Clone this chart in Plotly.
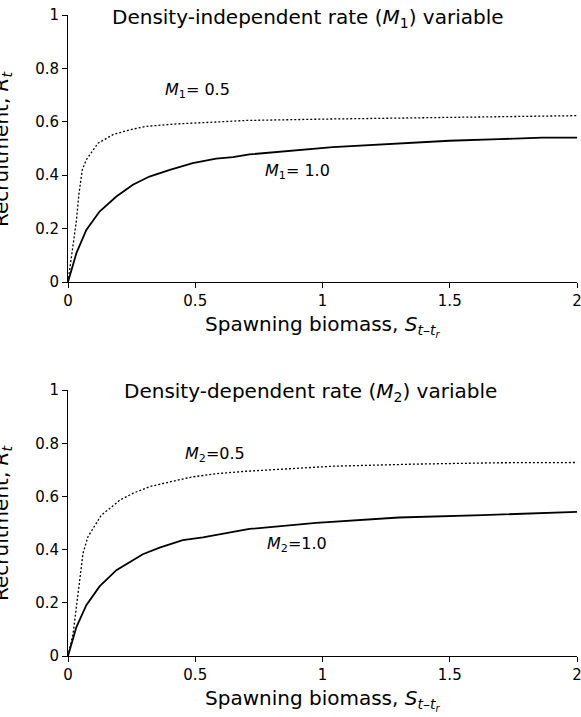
import plotly.graph_objects as go

# ---- data ----
s_m1_05 = [0, 0.02, 0.033, 0.043, 0.056, 0.072, 0.118, 0.177, 0.242, 0.308, 0.425, 0.556, 0.70, 1.0, 1.367, 1.7, 2.0]
r_m1_05 = [0, 0.13, 0.23, 0.33, 0.42, 0.458, 0.52, 0.552, 0.57, 0.583, 0.592, 0.598, 0.605, 0.610, 0.614, 0.619, 0.623]

s_m1_10 = [0, 0.033, 0.072, 0.124, 0.19, 0.255, 0.32, 0.40, 0.49, 0.582, 0.648, 0.713, 1.04, 1.263, 1.498, 1.694, 1.864, 2.0]
r_m1_10 = [0, 0.108, 0.195, 0.264, 0.32, 0.364, 0.395, 0.42, 0.445, 0.462, 0.468, 0.478, 0.505, 0.518, 0.529, 0.535, 0.541, 0.541]

s_m2_05 = [0, 0.02, 0.033, 0.046, 0.059, 0.078, 0.105, 0.131, 0.164, 0.203, 0.255, 0.32, 0.40, 0.49, 0.595, 0.70, 1.04, 1.367, 1.694, 2.0]
r_m2_05 = [0, 0.084, 0.185, 0.298, 0.386, 0.448, 0.492, 0.53, 0.555, 0.586, 0.612, 0.637, 0.655, 0.674, 0.687, 0.695, 0.714, 0.722, 0.727, 0.728]

s_m2_10 = [0, 0.033, 0.072, 0.124, 0.19, 0.294, 0.36, 0.451, 0.53, 0.622, 0.713, 0.975, 1.30, 1.629, 1.825, 2.0]
r_m2_10 = [0, 0.109, 0.191, 0.262, 0.323, 0.383, 0.408, 0.436, 0.446, 0.461, 0.478, 0.501, 0.521, 0.530, 0.536, 0.542]

x_ticks = [0, 0.5, 1, 1.5, 2]
x_tick_text = ["0", "0.5", "1", "1.5", "2"]
y_ticks = [0, 0.2, 0.4, 0.6, 0.8, 1]
y_tick_text = ["0", "0.2", "0.4", "0.6", "0.8", "1"]

titles = ["Density-independent rate (<i>M</i><sub>1</sub>) variable",
          "Density-dependent rate (<i>M</i><sub>2</sub>) variable"]
x_title = "Spawning biomass, <i>S</i><sub><i>t</i>–<i>t</i><sub><i>r</i></sub></sub>"
y_title = "Recruitment, <i>R</i><sub><i>t</i></sub>"

FONT = "DejaVu Sans, Arial, sans-serif"

fig = go.Figure()
fig.add_trace(go.Scatter(x=s_m1_05, y=r_m1_05, mode="lines", xaxis="x", yaxis="y",
                         line=dict(color="black", width=1.3, dash="2px,2px"), showlegend=False))
fig.add_trace(go.Scatter(x=s_m1_10, y=r_m1_10, mode="lines", xaxis="x", yaxis="y",
                         line=dict(color="black", width=1.8), showlegend=False))
fig.add_trace(go.Scatter(x=s_m2_05, y=r_m2_05, mode="lines", xaxis="x2", yaxis="y2",
                         line=dict(color="black", width=1.3, dash="2px,2px"), showlegend=False))
fig.add_trace(go.Scatter(x=s_m2_10, y=r_m2_10, mode="lines", xaxis="x2", yaxis="y2",
                         line=dict(color="black", width=1.8), showlegend=False))

xcommon = dict(range=[0, 2], tickvals=x_ticks, ticktext=x_tick_text, ticks="outside", ticklen=5,
               tickcolor="black", showline=True, linecolor="black", linewidth=1, showgrid=False,
               zeroline=False, ticklabeloverflow="allow", automargin=False,
               tickfont=dict(family=FONT, size=15, color="black"))
ycommon = dict(range=[0, 1], tickvals=y_ticks, ticktext=y_tick_text, ticks="outside", ticklen=5,
               tickcolor="black", showline=True, linecolor="black", linewidth=1, showgrid=False,
               zeroline=False, ticklabeloverflow="allow", automargin=False,
               tickfont=dict(family=FONT, size=15, color="black"))

W, H = 581, 717
ML, MR, MT, MB = 68, 4, 15, 61
pw = W - ML - MR
ph = H - MT - MB

def py2paper(py):
    return (H - MB - py) / ph

def px2paper(px):
    return (px - ML) / pw

fig.update_layout(
    width=W, height=H,
    margin=dict(l=ML, r=MR, t=MT, b=MB, autoexpand=False),
    paper_bgcolor="white", plot_bgcolor="white",
    xaxis=dict(domain=[0, 1], anchor="y", **xcommon),
    yaxis=dict(domain=[py2paper(282), 1.0], anchor="x", **ycommon),
    xaxis2=dict(domain=[0, 1], anchor="y2", **xcommon),
    yaxis2=dict(domain=[0, py2paper(390.2)], anchor="x2", **ycommon),
)

ann = []
cm = dict(xref="paper", yref="paper", xanchor="center", yanchor="middle", showarrow=False)
# panel titles
ann.append(dict(text=titles[0], x=px2paper(308), y=py2paper(18),
                font=dict(family=FONT, size=20, color="black"), **cm))
ann.append(dict(text=titles[1], x=px2paper(310), y=py2paper(392),
                font=dict(family=FONT, size=20, color="black"), **cm))
# x-axis titles
for yy in (326, 700):
    ann.append(dict(text=x_title, x=px2paper(322), y=py2paper(yy),
                    font=dict(family=FONT, size=20, color="black"), **cm))
# y-axis titles (cut at the left edge, as in the reference)
for yy in (149, 523):
    ann.append(dict(text=y_title, x=px2paper(2), y=py2paper(yy), textangle=-90,
                    font=dict(family=FONT, size=20, color="black"), **cm))
# curve labels
lab = dict(showarrow=False, xanchor="left", yanchor="middle", font=dict(family=FONT, size=16, color="black"))
ann.append(dict(text="<i>M</i><sub>1</sub>= 0.5", x=0.373, y=0.717, xref="x", yref="y", **lab))
ann.append(dict(text="<i>M</i><sub>1</sub>= 1.0", x=0.766, y=0.415, xref="x", yref="y", **lab))
ann.append(dict(text="<i>M</i><sub>2</sub>=0.5", x=0.452, y=0.758, xref="x2", yref="y2", **lab))
ann.append(dict(text="<i>M</i><sub>2</sub>=1.0", x=0.774, y=0.419, xref="x2", yref="y2", **lab))

fig.update_layout(annotations=ann)
fig.write_html("out.html")
